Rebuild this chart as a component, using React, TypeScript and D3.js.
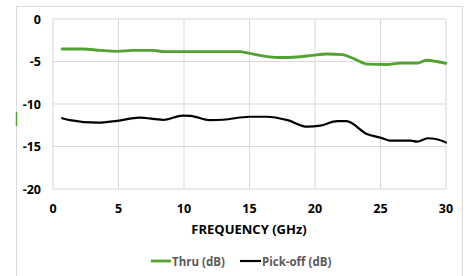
import React from 'react';
import * as d3 from 'd3';

const thruFreq = [0.7, 2.3, 3.6, 4.9, 6.1, 7.6, 8.5, 10, 14.3, 14.8, 17.3, 18.6, 19.8, 20.9, 22.1, 22.9, 24, 25.5, 26.5, 27.8, 28.5, 29.3, 30];
const thruDb = [-3.53, -3.53, -3.69, -3.8, -3.69, -3.69, -3.84, -3.84, -3.84, -3.98, -4.53, -4.47, -4.27, -4.12, -4.19, -4.62, -5.31, -5.35, -5.2, -5.2, -4.85, -5.0, -5.23];

const pickFreq = [0.7, 1.3, 3.4, 4.9, 6.6, 8.4, 9.9, 10.5, 12, 13, 15, 16.3, 17.9, 19.4, 20.4, 21.7, 22.4, 24, 25, 25.7, 27.3, 27.8, 28.6, 29.3, 30];
const pickDb = [-11.67, -11.9, -12.2, -11.98, -11.6, -11.86, -11.36, -11.4, -11.9, -11.85, -11.5, -11.5, -11.9, -12.67, -12.55, -12.02, -12.02, -13.57, -13.95, -14.3, -14.3, -14.42, -14.03, -14.15, -14.53];

const xTicks = [0, 5, 10, 15, 20, 25, 30];
const yTicks = [0, -5, -10, -15, -20];

const W = 467;
const H = 276;
const plot = { left: 53, right: 446, top: 19, bottom: 189 };
const font = "'Open Sans', 'Noto Sans', sans-serif";

export default function App() {
  const x = d3.scaleLinear().domain([0, 30]).range([plot.left, plot.right]);
  const y = d3.scaleLinear().domain([-20, 0]).range([plot.bottom, plot.top]);

  const line = d3.line<[number, number]>()
    .x(d => x(d[0]))
    .y(d => y(d[1]))
    .curve(d3.curveMonotoneX);

  const thruPath = line(thruFreq.map((f, i) => [f, thruDb[i]] as [number, number])) || '';
  const pickPath = line(pickFreq.map((f, i) => [f, pickDb[i]] as [number, number])) || '';

  const green = '#52a232';

  return (
    <svg width={W} height={H} style={{ position: 'absolute', left: 0, top: 0, background: '#fff' }}>
      {/* outer chart frame */}
      <rect x={16.5} y={6.5} width={446} height={280} fill="none" stroke="#d9d9d9" strokeWidth={1} />
      <line x1={16.5} x2={16.5} y1={112} y2={126} stroke={green} strokeWidth={1.5} />

      {/* grid */}
      {xTicks.map(t => (
        <line key={'gx' + t} x1={x(t)} x2={x(t)} y1={plot.top} y2={plot.bottom} stroke="#d9d9d9" strokeWidth={1} />
      ))}
      {yTicks.map(t => (
        <line key={'gy' + t} x1={plot.left} x2={plot.right} y1={y(t)} y2={y(t)} stroke="#d9d9d9" strokeWidth={1} />
      ))}

      {/* tick labels */}
      {yTicks.map(t => (
        <text key={'ty' + t} x={41} y={y(t)} textAnchor="end" dominantBaseline="central"
          fontFamily={font} fontWeight="bold" fontSize={12.5} fill="#000">{t}</text>
      ))}
      {xTicks.map(t => (
        <text key={'tx' + t} x={x(t)} y={208} textAnchor="middle" dominantBaseline="central"
          fontFamily={font} fontWeight="bold" fontSize={12.5} fill="#000">{t}</text>
      ))}

      <text x={249} y={229} textAnchor="middle" dominantBaseline="central"
        fontFamily={font} fontWeight="bold" fontSize={13} fill="#000">FREQUENCY (GHz)</text>

      {/* series */}
      <path d={thruPath} fill="none" stroke={green} strokeWidth={2.8} strokeLinejoin="round" strokeLinecap="round" />
      <path d={pickPath} fill="none" stroke="#000" strokeWidth={2.2} strokeLinejoin="round" strokeLinecap="round" />

      {/* legend */}
      <line x1={151} x2={171} y1={261} y2={261} stroke={green} strokeWidth={2.8} />
      <text x={172} y={261} dominantBaseline="central" fontFamily={font} fontWeight="bold" fontSize={11.5} fill="#595959">Thru (dB)</text>
      <line x1={240} x2={261} y1={261} y2={261} stroke="#000" strokeWidth={2.2} />
      <text x={262} y={261} dominantBaseline="central" fontFamily={font} fontWeight="bold" fontSize={11.5} fill="#595959">Pick-off (dB)</text>
    </svg>
  );
}
